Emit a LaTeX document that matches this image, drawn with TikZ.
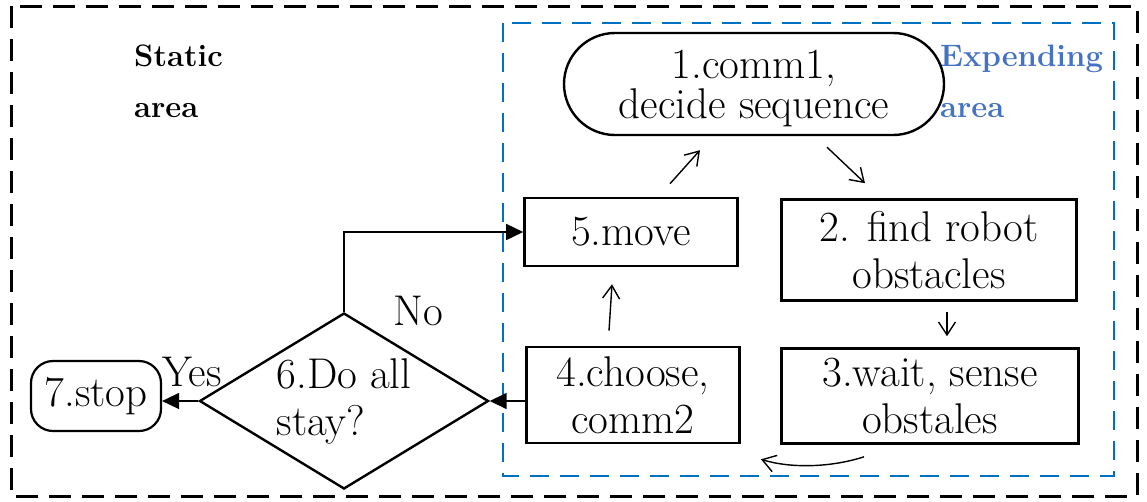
\documentclass[tikz,border=0pt]{standalone}
\usepackage{fontspec}
\usetikzlibrary{shapes.geometric,shapes.misc,arrows.meta,calc}
\definecolor{frameblue}{HTML}{0070C0}
\definecolor{labelblue}{HTML}{4472C4}
\begin{document}
\begin{tikzpicture}[x=1pt,y=-1pt,
  every node/.style={font=\rmfamily\fontsize{43}{47}\selectfont, inner sep=0pt},
  stepbox/.style={draw, rectangle, line width=2.6pt, align=center},
  termbox/.style={draw, rounded rectangle, line width=2.4pt, align=center},
  stopbox/.style={draw, rectangle, rounded corners=22pt, line width=2.2pt},
  decision/.style={draw, diamond, aspect=1.64, line width=2.4pt, align=left},
  arealabel/.style={font=\rmfamily\fontsize{31}{51}\selectfont\bfseries, align=left, anchor=north west},
  conn/.style={line width=1.6pt, -{Triangle[length=17pt,width=16pt]}},
  flow/.style={line width=1.4pt, -{Straight Barb[length=13pt,width=17pt,line width=1.4pt]}},
  outerframe/.style={line width=3pt, dash pattern=on 22pt off 11pt},
  innerframe/.style={draw=frameblue, line width=2.6pt, dash pattern=on 19pt off 11pt}]
\useasboundingbox (0,0) rectangle (1147,501);

% static and expanding regions
\draw[outerframe] (11,6) rectangle (1137,496);
\draw[innerframe] (503,23) rectangle (1114,476);

\node[arealabel] (static) at (134,45) {Static\\area};
\node[arealabel, text=labelblue] (expending) at (940,45) {Expending\\area};

% process steps
\node[termbox, minimum width=380pt, minimum height=102pt, text depth=0pt,
      font=\rmfamily\fontsize{43}{40}\selectfont] (n1) at (754,84) {1.comm1,\\decide sequence};
\node[stepbox, minimum width=213pt, minimum height=68pt] (n5) at (631,232) {5.move};
\node[stepbox, minimum width=295pt, minimum height=101pt] (n2) at (929,250) {2. find robot\\obstacles};
\node[stepbox, minimum width=213pt, minimum height=96pt] (n4) at (633,395) {4.choose,\\comm2};
\node[stepbox, minimum width=297pt, minimum height=95pt] (n3) at (930,396) {3.wait, sense\\obstales};
\node[decision, minimum width=289pt, minimum height=176pt] (n6) at (344,401) {6.Do all\\stay?};
\node[stopbox, minimum width=130pt, minimum height=70pt] (n7) at (96,396) {7.stop};

\node[anchor=base west] (no) at (393,325) {No};
\node[anchor=base west] (yes) at (162,386) {Yes};

% cycle inside the expanding area
\draw[flow] ($(n5.north)+(39,-13)$) -- ($(n1.south)+(-54,14)$);
\draw[flow] ($(n1.south)+(73,11)$) -- ($(n2.north)+(-64,-15)$);
\draw[flow] ($(n2.south)+(18,10)$) -- ($(n3.north)+(17,-11)$);
\draw[flow] ($(n3.south)+(-66,12)$) .. controls ($(n3.south)+(-100,23)$) and ($(n4.south)+(157,24)$) .. ($(n4.south)+(128,15)$);
\draw[flow] ($(n4.north)+(-24,-15)$) -- ($(n5.south)+(-19,17)$);

% decision branches
\draw[conn] (n4.west |- n6.east) -- (n6.east);
\draw[conn] (n6.north) |- (n5.west);
\draw[conn] (n6.west) -- (n6.west -| n7.east);
\end{tikzpicture}
\end{document}
